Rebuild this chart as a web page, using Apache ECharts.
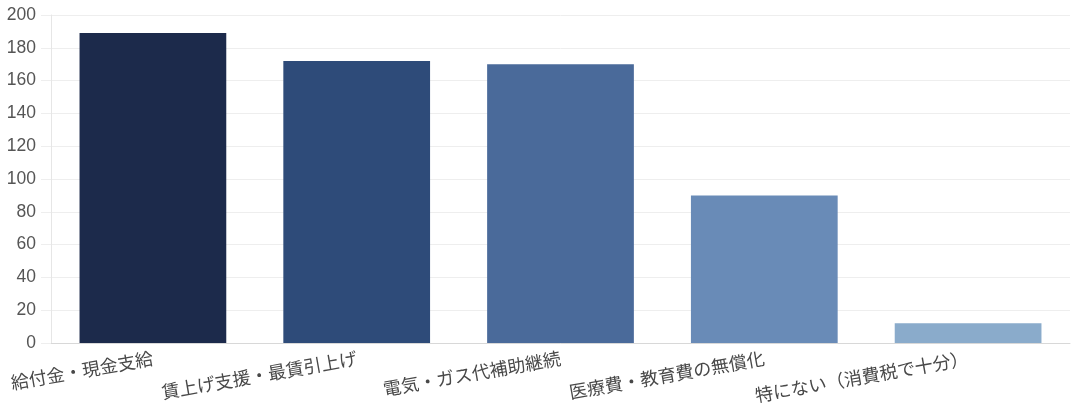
<!DOCTYPE html>
<html>
<head>
<meta charset="utf-8">
<script src="https://cdn.jsdelivr.net/npm/echarts@6/dist/echarts.min.js"></script>
<style>
html, body { margin: 0; padding: 0; background: #fff; }
#chart { width: 1072px; height: 420px; }
</style>
</head>
<body>
<div id="chart"></div>
<script>
var categories = ["給付金・現金支給", "賃上げ支援・最賃引上げ", "電気・ガス代補助継続", "医療費・教育費の無償化", "特にない（消費税で十分）"];
var values = [189, 172, 170, 90, 12];
var barColors = ["#1c2a4b", "#2e4b79", "#4a6a9a", "#698bb7", "#8aabcb"];

var chart = echarts.init(document.getElementById("chart"));
chart.setOption({
    animation: false,
    grid: { left: 51, right: 2, top: 15, bottom: 77, containLabel: false },
    xAxis: {
        type: "category",
        data: categories,
        axisLine: { show: true, lineStyle: { color: "#d8d8d8" } },
        axisTick: { show: false },
        axisLabel: {
            rotate: 10,
            interval: 0,
            color: "#484848",
            fontSize: 18,
            fontFamily: "Noto Sans CJK JP",
            margin: 15
        }
    },
    yAxis: {
        type: "value",
        min: 0,
        max: 200,
        interval: 20,
        axisLine: { show: true, lineStyle: { color: "#e6e6e6" } },
        axisTick: { show: true, length: 10, lineStyle: { color: "#eeeeee" } },
        splitLine: { lineStyle: { color: "#eeeeee" } },
        axisLabel: {
            color: "#555",
            fontSize: 17.5,
            fontFamily: "Helvetica, Liberation Sans, Arial",
            margin: 15
        }
    },
    series: [{
        type: "bar",
        data: values.map(function (v, i) {
            return { value: v, itemStyle: { color: barColors[i] } };
        }),
        barWidth: "72%"
    }]
});
</script>
</body>
</html>
